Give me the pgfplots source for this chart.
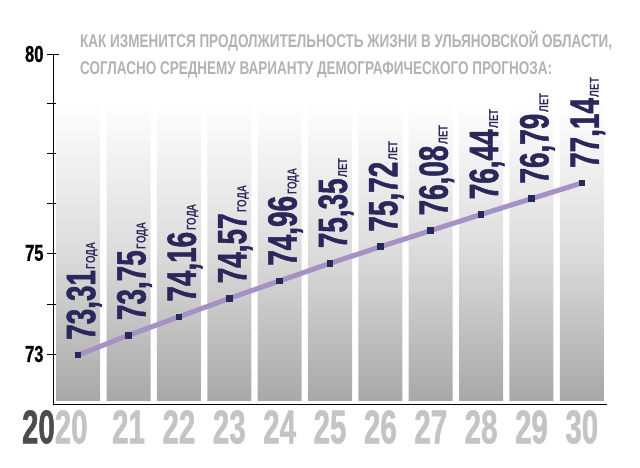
\documentclass[border=0pt]{standalone}
\usepackage{fontspec}
\setmainfont{Liberation Sans}
\newfontfamily\titlefont[FakeStretch=0.734]{Liberation Sans}
\newfontfamily\valfont[FakeStretch=0.68, FakeBold=1.2]{Liberation Sans}
\newfontfamily\unitfont[FakeStretch=0.75]{Liberation Sans}
\newfontfamily\tickfont[FakeStretch=0.62, FakeBold=1]{Liberation Sans}
\newfontfamily\yfont[FakeStretch=0.72, FakeBold=0.8]{Liberation Sans}
\usepackage{pgfplots}
\pgfplotsset{compat=1.18}
\definecolor{ttlgray}{HTML}{B2B2B6}
\definecolor{navy}{HTML}{2A285A}
\definecolor{lilac}{HTML}{A592C4}
\definecolor{tkgray}{HTML}{C4C4C4}
\definecolor{dk}{HTML}{4C4C4C}
\definecolor{barmid}{HTML}{DCDCDC}
\definecolor{barbot}{HTML}{A8A8A8}
\newcommand\vlab[2]{{\fontsize{41}{40}\valfont\bfseries #1}\kern1pt{\fontsize{13}{13}\unitfont\bfseries #2}}
\begin{document}
\begin{tikzpicture}
\begin{axis}[
  at={(53pt,63pt)}, anchor=south west,
  scale only axis, width=554pt, height=350pt,
  xmin=-0.5, xmax=10.5, ymin=72.219, ymax=80.012,
  axis x line=bottom, axis y line=left,
  axis line style={black, line width=0.9pt, -},
  clip=false,
  xtick={0,...,10},
  xticklabels={\llap{\color{dk}20}20\hspace*{14pt},21,22,23,24,25,26,27,28,29,30},
  xticklabel style={font=\fontsize{47.5}{47}\tickfont\bfseries, text=tkgray, inner sep=0pt},
  x tick style={draw=none},
  minor xtick={0.5,1.5,...,10.5},
  minor x tick style={black, line width=0.8pt},
  minor tick length=29pt,
  ytick={73.332,74.446,75.581,76.694,77.808,78.921,80.012},
  yticklabels={73,,75,,,,80},
  yticklabel style={font=\fontsize{23}{23}\yfont\bfseries, text=black},
  y tick style={black, line width=0.8pt},
  major tick length=12pt,
  tick align=center,
  unbounded coords=jump,
]
% background columns
\addplot[draw=none, top color=white, bottom color=barbot, middle color=barmid] coordinates {
(-0.437,72.286) (0.437,72.286) (0.437,78.988) (-0.437,78.988) (0,nan)
(0.563,72.286) (1.437,72.286) (1.437,78.988) (0.563,78.988) (1,nan)
(1.563,72.286) (2.437,72.286) (2.437,78.988) (1.563,78.988) (2,nan)
(2.563,72.286) (3.437,72.286) (3.437,78.988) (2.563,78.988) (3,nan)
(3.563,72.286) (4.437,72.286) (4.437,78.988) (3.563,78.988) (4,nan)
(4.563,72.286) (5.437,72.286) (5.437,78.988) (4.563,78.988) (5,nan)
(5.563,72.286) (6.437,72.286) (6.437,78.988) (5.563,78.988) (6,nan)
(6.563,72.286) (7.437,72.286) (7.437,78.988) (6.563,78.988) (7,nan)
(7.563,72.286) (8.437,72.286) (8.437,78.988) (7.563,78.988) (8,nan)
(8.563,72.286) (9.437,72.286) (9.437,78.988) (8.563,78.988) (9,nan)
(9.563,72.286) (10.437,72.286) (10.437,78.988) (9.563,78.988)
};
% line
\addplot[lilac, line width=5pt, mark=square*, mark size=2.8pt, mark options={navy, line width=0pt}] coordinates {
(0,73.31) (1,73.75) (2,74.16) (3,74.57) (4,74.96) (5,75.35) (6,75.72) (7,76.08) (8,76.44) (9,76.79) (10,77.14)
};
% labels
\addplot[draw=none, point meta=explicit symbolic,
  nodes near coords={\vlab{\pgfplotspointmeta}{ГОДА}},
  every node near coord/.append style={text=navy, inner sep=0pt, anchor=base west, xshift=17pt, yshift=15pt, rotate=90}]
coordinates {(0,73.31) [73,31] (1,73.75) [73,75] (2,74.16) [74,16] (3,74.57) [74,57] (4,74.96) [74,96]};
\addplot[draw=none, point meta=explicit symbolic,
  nodes near coords={\vlab{\pgfplotspointmeta}{ЛЕТ}},
  every node near coord/.append style={text=navy, inner sep=0pt, anchor=base west, xshift=17pt, yshift=15pt, rotate=90}]
coordinates {(5,75.35) [75,35] (6,75.72) [75,72] (7,76.08) [76,08] (8,76.44) [76,44] (9,76.79) [76,79] (10,77.14) [77,14]};
\end{axis}
\node[anchor=base west, inner sep=0pt, text=ttlgray, font=\fontsize{18.4}{18}\titlefont\bfseries] at (80pt,419pt) {КАК ИЗМЕНИТСЯ ПРОДОЛЖИТЕЛЬНОСТЬ ЖИЗНИ В УЛЬЯНОВСКОЙ ОБЛАСТИ,};
\node[anchor=base west, inner sep=0pt, text=ttlgray, font=\fontsize{18.4}{18}\titlefont\bfseries] at (80pt,392pt) {СОГЛАСНО СРЕДНЕМУ ВАРИАНТУ ДЕМОГРАФИЧЕСКОГО ПРОГНОЗА:};
\pgfresetboundingbox
\path (0,0) rectangle (640pt,467pt);
\end{tikzpicture}
\end{document}
